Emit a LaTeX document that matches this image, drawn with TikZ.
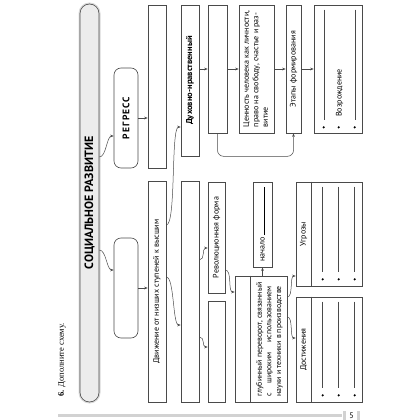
\documentclass[tikz,border=0pt]{standalone}
\usepackage{fontspec}
\setmainfont{PT Sans}
\newfontfamily\taskfont{Liberation Serif}
\usetikzlibrary{arrows.meta, calc}
\definecolor{schemeline}{HTML}{4A4A4A}
\definecolor{schemeshade}{HTML}{ECECEC}
\definecolor{pagegrey}{HTML}{D2D2D2}

\newcommand{\vtext}[1]{\rotatebox{90}{#1}}
\newlength{\shiftwd}

\begin{document}
\begin{tikzpicture}[
  x=1pt, y=-1pt,
  font=\fontsize{8}{9.5}\selectfont,
  blank/.style 2 args={
    rectangle, draw=schemeline, line width=0.6pt,
    minimum width=#1, minimum height=#2, inner sep=0pt
  },
  oval/.style 2 args={blank={#1}{#2}, rounded corners=7pt},
  arr/.style={-{Stealth[length=3.5pt,width=2.6pt]}, line width=0.5pt, schemeline},
  wave/.style={out=0, in=180, distance=#1},
  wave/.default=7pt,
  rule/.style={schemeline, line width=0.5pt},
  dot/.style={fill=black}
]
  \useasboundingbox (0,0) rectangle (420,420);

  % main bar
  \node[blank={19pt}{398pt}, rounded corners=9.5pt, fill=schemeshade,
        preaction={draw=gray!30, line width=3pt}] (bar) at (89.5,203)
    {\vtext{\fontsize{12}{14}\selectfont\bfseries СОЦИАЛЬНОЕ РАЗВИТИЕ}};

  \node[oval={24pt}{100pt}] (regress) at (126,118)
    {\vtext{\fontsize{9.5}{11}\selectfont\bfseries\addfontfeature{LetterSpace=12}РЕГРЕСС}};
  \node[oval={24pt}{100pt}] (progress) at (126,288) {};

  \node[blank={18pt}{163pt}] (stagetop) at (157,86.5) {};
  \node[blank={18pt}{221pt}] (stagebot) at (157,291.5)
    {\vtext{Движение от низших ступеней к высшим}};

  \node[blank={18pt}{151pt}] (spirit) at (190,80.5)
    {\vtext{\fontsize{8.5}{10}\selectfont\bfseries Духовно-нравственный}};
  \node[blank={18pt}{221pt}] (formbot) at (190,291.5) {};

  % upper row
  \node[blank={19pt}{128pt}] (valtop) at (217.5,69) {};
  \node[blank={35pt}{128pt}] (values) at (256.5,69)
    {\vtext{\begin{tabular}{@{}l@{}}Ценность человека как личности,\\
      право на свободу, счастье и раз-\\витие\end{tabular}}};
  \node[blank={15pt}{128pt}] (stages) at (293.5,69) {\vtext{Этапы формирования}};
  \node[blank={48pt}{128pt}] (revival) at (338,69) {};
  \node[anchor=south] (revivaltext) at ([xshift=26pt,yshift=13pt]revival.south west)
    {\vtext{Возрождение}};
  \foreach \lx in {11,42}
    \draw[rule] ([xshift=\lx pt,yshift=-5pt]revival.north west)
      -- ([xshift=\lx pt,yshift=13pt]revival.south west);
  \foreach \lx in {10,25,41}
    \fill[dot] ([xshift=\lx pt,yshift=6pt]revival.south west) circle (1.2pt);

  % lower row
  \node[blank={17pt}{111pt}] (revform) at (216.5,237.5) {\vtext{Революционная форма}};
  \node[blank={17pt}{101pt}] (evobot) at (216.5,351.5) {};
  \node[blank={19pt}{85pt}] (start) at (262.5,224.5)
    {\vtext{начало \rule{48pt}{0.4pt}}};
  \node[blank={52pt}{126pt}] (shift) at (261,339) {};
  \draw[rule] ([xshift=16pt]shift.north west) -- ([xshift=16pt]shift.south west);
  \node[font=\fontsize{7.8}{9.6}\selectfont] (shifttext) at (269.5,339.5)
    {\settowidth{\shiftwd}{науки и техники в производстве}%
     \vtext{\begin{tabular}{@{}l@{}}глубинный переворот, связанный\\
      \makebox[\shiftwd][s]{с широким использованием}\\
      науки и техники в производстве\end{tabular}}};

  \node[blank={66pt}{104pt}] (threats) at (329,234) {};
  \node[blank={66pt}{105pt}] (gains) at (329,349.5) {};
  \foreach \fld/\lbl in {threats/Угрозы, gains/Достижения} {
    \draw[rule] ([xshift=16pt]\fld.north west) -- ([xshift=16pt]\fld.south west);
    \node (\fld lbl) at ([xshift=8pt]\fld.west) {\vtext{\lbl}};
    \foreach \lx in {27,43,59} {
      \draw[rule] ([xshift=\lx pt,yshift=-5pt]\fld.north west)
        -- ([xshift=\lx pt,yshift=14pt]\fld.south west);
      \fill[dot] ([xshift=\lx pt,yshift=7pt]\fld.south west) circle (1.2pt);
    }
  }

  % connectors
  \draw[arr] ([yshift=46pt]bar.east) to[wave] ([yshift=-18pt]regress.west);
  \draw[arr] ([yshift=-47pt]bar.east) to[wave] ([yshift=18pt]progress.west);
  \draw[arr] (regress.east) -- (regress.east -| stagetop.west);
  \draw[arr] (progress.east) -- (progress.east -| stagebot.west);
  \draw[arr] ([yshift=66.5pt]stagebot.east) to[wave=10pt] ([yshift=-46.5pt]spirit.west);
  \draw[arr] ([yshift=14.5pt]stagebot.east) to[wave=8pt] ([yshift=-33.5pt]formbot.west);
  \draw[arr] (spirit.east |- valtop.west) -- (valtop.west);
  \draw[arr] (valtop.east) -- (values.west);
  \draw[arr] (values.east) -- (stages.west);
  \draw[arr] (stages.east) -- (revival.west);
  \draw[arr, rounded corners=6pt] (valtop.south) -- ++(0,23) -| (stages.south);

  \draw[arr] ([yshift=31.5pt]formbot.east) to[wave=6pt] ([yshift=-10.5pt]revform.west);
  \draw[arr] ([yshift=-45.5pt]formbot.east) to[wave=6pt] ([yshift=4.5pt]evobot.west);
  \draw[arr] ([yshift=-32.5pt]revform.east) to[wave=7pt] ([yshift=47pt]shift.west);
  \draw[arr] (start.south |- shift.north) -- (start.south);
  \draw[arr] ([yshift=42pt]shift.east) to[wave=6pt] ([yshift=-42pt]threats.west);
  \draw[arr] ([yshift=22pt]shift.east) to[wave=6pt] ([yshift=11.5pt]gains.west);

  % task and page footer
  \node[anchor=south, font=\taskfont\fontsize{8.5}{10}\selectfont] (task) at (62,400)
    {\vtext{\textbf{6.} Дополните схему.}};
  \fill[pagegrey] (58,413.5) rectangle (342,416.5);
  \fill[pagegrey] (342.5,410.5) rectangle (345.5,420);
  \fill[pagegrey] (357,410.5) rectangle (360,420);
  \node (pagenum) at (351.5,415.5) {\fontsize{8}{9}\selectfont 5};
\end{tikzpicture}
\end{document}
